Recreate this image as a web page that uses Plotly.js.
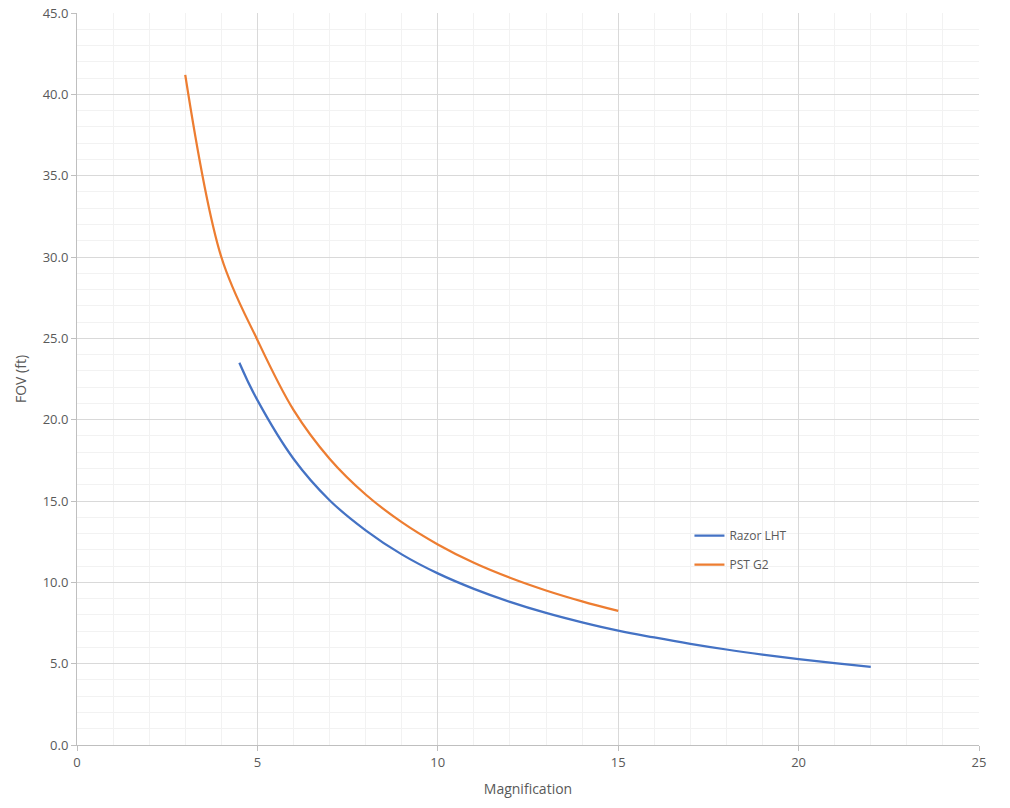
<!DOCTYPE html>
<html>
<head>
<meta charset="utf-8">
<script src="https://cdn.plot.ly/plotly-3.0.1.min.js"></script>
<style>html,body{margin:0;padding:0;background:#fff;}#chart{width:1010px;height:808px;}</style>
</head>
<body>
<div id="chart"></div>
<script>
const razorMag = [4.5, 5, 6, 7, 8, 9, 10, 11, 12, 13, 14, 15, 16, 17, 18, 19, 20, 21, 22];
const razorFov = [23.5, 21.2, 17.6, 15.05, 13.2, 11.72, 10.55, 9.6, 8.8, 8.12, 7.54, 7.03, 6.61, 6.22, 5.87, 5.56, 5.28, 5.03, 4.8];
const pstMag = [3, 4, 5, 6, 7, 8, 9, 10, 11, 12, 13, 14, 15];
const pstFov = [41.2, 30.0, 24.9, 20.6, 17.6, 15.4, 13.7, 12.33, 11.2, 10.28, 9.5, 8.83, 8.24];
const seriesNames = ["Razor LHT", "PST G2"];
const seriesColors = ["#4472C4", "#ED7D31"];

const font = "Open Sans, Liberation Sans, sans-serif";
const traces = [
  {x: razorMag, y: razorFov, name: seriesNames[0], legendgroup: "a", mode: "lines",
   line: {color: seriesColors[0], width: 2.25, shape: "spline", smoothing: 1.2}},
  {x: pstMag, y: pstFov, name: seriesNames[1], legendgroup: "b", mode: "lines",
   line: {color: seriesColors[1], width: 2.25, shape: "spline", smoothing: 1.0}}
];
const layout = {
  width: 1010, height: 808,
  margin: {l: 77, r: 31, t: 13, b: 63},
  paper_bgcolor: "#fff", plot_bgcolor: "#fff",
  font: {family: font, size: 13, color: "#595959"},
  showlegend: true,
  legend: {x: 0.679, y: 0.306, xanchor: "left", yanchor: "top", traceorder: "grouped",
           tracegroupgap: 10, bgcolor: "rgba(0,0,0,0)", font: {size: 12, color: "#595959"}},
  xaxis: {
    range: [0, 25], dtick: 5, tick0: 0, tickformat: "d",
    showgrid: true, gridcolor: "#d9d9d9", gridwidth: 1,
    minor: {dtick: 1, showgrid: true, gridcolor: "#f2f2f2", gridwidth: 1},
    showline: true, linecolor: "#bfbfbf", linewidth: 1,
    ticks: "outside", ticklen: 5, tickcolor: "#bfbfbf",
    zeroline: false,
    title: {text: "Magnification", font: {size: 14, color: "#595959"}, standoff: 14}
  },
  yaxis: {
    range: [0, 45], dtick: 5, tick0: 0, tickformat: ".1f",
    showgrid: true, gridcolor: "#d9d9d9", gridwidth: 1,
    minor: {dtick: 1, showgrid: true, gridcolor: "#f2f2f2", gridwidth: 1},
    showline: true, linecolor: "#bfbfbf", linewidth: 1,
    ticks: "outside", ticklen: 5, tickcolor: "#bfbfbf",
    zeroline: false,
    title: {text: "FOV (ft)", font: {size: 14, color: "#595959"}, standoff: 12}
  }
};
Plotly.newPlot("chart", traces, layout, {displayModeBar: false, staticPlot: true});
</script>
</body>
</html>
